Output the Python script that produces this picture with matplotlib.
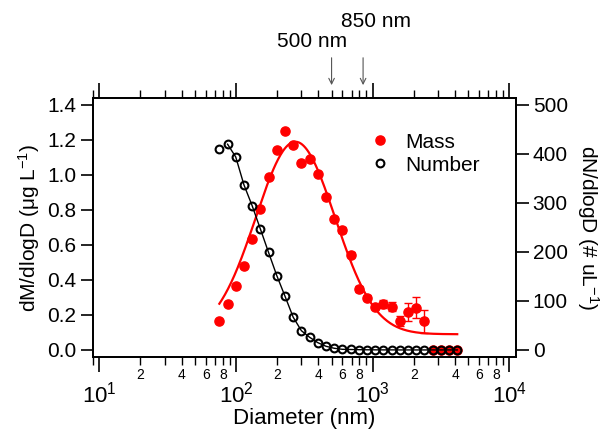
import numpy as np
import matplotlib.pyplot as plt
from matplotlib.ticker import LogLocator, FuncFormatter, MultipleLocator

plt.rcParams['font.family'] = ['Liberation Sans', 'DejaVu Sans']
plt.rcParams['mathtext.fontset'] = 'custom'
plt.rcParams['mathtext.rm'] = 'Liberation Sans'
plt.rcParams['mathtext.it'] = 'Liberation Sans'

# size bins (nm)
diameter = [75.5, 86.7, 99.5, 114.3, 131.2, 150.7, 173.0, 198.6, 228.0, 261.8,
            300.6, 345.1, 396.2, 454.9, 522.3, 599.7, 688.5, 790.5, 907.6, 1042,
            1197, 1374, 1578, 1811, 2080, 2388, 2742, 3148, 3614, 4150]
# dM/dlogD (ug L-1)
mass = [0.166, 0.26, 0.367, 0.48, 0.634, 0.806, 0.987, 1.143, 1.253, 1.17,
        1.068, 1.093, 1.008, 0.876, 0.75, 0.686, 0.545, 0.348, 0.298, 0.244,
        0.263, 0.248, 0.166, 0.217, 0.242, 0.164, 0.0, 0.0, 0.0, 0.0]
mass_err = [0, 0, 0, 0, 0, 0, 0, 0, 0, 0,
            0, 0, 0, 0.012, 0.012, 0.015, 0.015, 0.018, 0.015, 0.012,
            0.024, 0.025, 0.03, 0.05, 0.06, 0.067, 0, 0, 0, 0]
# dN/dlogD (# uL-1)
number = [411, 420, 394, 337, 294.5, 247, 199, 152, 110, 67,
          39.4, 26, 15, 7.6, 3.5, 1.4, 1.0, 0.6, 0.4, 0.3,
          0.2, 0.2, 0.1, 0.1, 0.1, 0.1, 0.1, 0.1, 0.1, 0.1]

# lognormal fit to the mass distribution
fit_y0 = 0.09
fit_amp = 1.10
fit_dg = 272.0
fit_sigma = 0.29  # decades

markers_nm = [500, 850]

d = np.array(diameter)
dfit = np.logspace(np.log10(d[0]), np.log10(d[-1]), 300)
mfit = fit_y0 + fit_amp * np.exp(-(np.log10(dfit / fit_dg)) ** 2 / (2 * fit_sigma ** 2))

fig = plt.figure(figsize=(6.14, 4.30), dpi=100)
ax = fig.add_axes([0.1515, 0.1698, 0.6889, 0.6023])
ax2 = ax.twinx()

ax.plot(dfit, mfit, color='red', lw=1.6, zorder=2)
err = np.array(mass_err)
sel = err > 0
ax.errorbar(d[sel], np.array(mass)[sel], yerr=err[sel], fmt='none', ecolor='red',
            elinewidth=1.0, capsize=3, capthick=1.0, zorder=3)
h_mass, = ax.plot(d, mass, 'o', color='red', ms=6.6, mec='red', zorder=4, label='Mass')

ax2.plot(d[1:], number[1:], color='black', lw=1.0)
h_num, = ax2.plot(d, number, 'o', mfc='none', mec='black', mew=1.5, ms=5.6, label='Number')

ax.set_xscale('log')
ax.set_xlim(10 ** 0.954, 10 ** 4.048)
ax.set_ylim(-0.04, 1.44)
ax2.set_ylim(-0.04 * 500 / 1.4, 1.44 * 500 / 1.4)

ax.yaxis.set_major_locator(MultipleLocator(0.2))
ax.yaxis.set_major_formatter(FuncFormatter(lambda v, p: '%.1f' % v))
ax2.yaxis.set_major_locator(MultipleLocator(100))

ax.xaxis.set_major_locator(LogLocator(base=10, numticks=10))
ax.xaxis.set_minor_locator(LogLocator(base=10, subs=np.arange(2, 10), numticks=20))


def minor_fmt(v, p):
    m = int(round(v / 10 ** np.floor(np.log10(v) + 1e-9)))
    return str(m) if m in (2, 4, 6, 8) else ''


ax.xaxis.set_minor_formatter(FuncFormatter(minor_fmt))
ax.xaxis.set_major_formatter(FuncFormatter(lambda v, p: '$10^{%d}$' % round(np.log10(v))))

ax.tick_params(axis='x', which='both', top=True, direction='out')
ax.tick_params(axis='x', which='major', length=11, width=1.2, labelsize=16, pad=7)
ax.tick_params(axis='x', which='minor', length=6, width=1.0, labelsize=10, pad=2)
ax.tick_params(axis='y', which='major', length=9, width=1.2, labelsize=15, pad=3)
ax2.tick_params(axis='y', which='major', length=9, width=1.2, labelsize=15, pad=3)
for a in (ax, ax2):
    for s in a.spines.values():
        s.set_linewidth(1.3)

ax.set_xlabel('Diameter (nm)', fontsize=16, labelpad=0)
ax.set_ylabel('dM/dlogD (μg L$^{-1}$)', fontsize=15, labelpad=4)
ax2.set_ylabel('dN/dlogD (# uL$^{-1}$)', fontsize=15, rotation=270, labelpad=24)

for nm in markers_nm:
    ax.annotate('', xy=(nm, 1.039), xycoords=('data', 'axes fraction'),
                xytext=(nm, 1.166), textcoords=('data', 'axes fraction'),
                arrowprops=dict(arrowstyle='->', color='#555555', lw=0.8))
ax.text(362, 1.22, '500 nm', transform=ax.get_xaxis_transform(), ha='center',
        va='center', fontsize=15)
ax.text(1060, 1.295, '850 nm', transform=ax.get_xaxis_transform(), ha='center',
        va='center', fontsize=15)

ax2.legend([h_mass, h_num], ['Mass', 'Number'], loc='center left',
           bbox_to_anchor=(0.61, 0.785), frameon=False, fontsize=15,
           handletextpad=0.7, labelspacing=0.2, handlelength=1.0)

fig.savefig('out.png', dpi=100)
